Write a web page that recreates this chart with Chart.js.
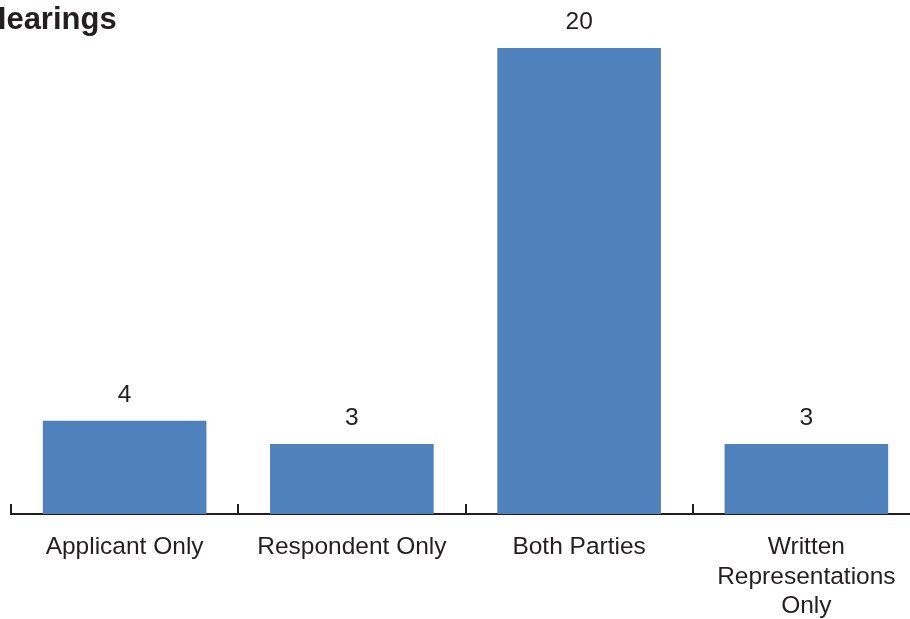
<html>
<head>
    <title>Hearings</title>
    <script src="https://cdn.jsdelivr.net/npm/chart.js"></script>
    <style>
        body { margin: 0; background: #fff; overflow: hidden; }
        .wrap { width: 910px; height: 619px; overflow: hidden; position: relative; }
        canvas { position: absolute; left: 0; top: 0; }
    </style>
</head>
<body>
    <div class="wrap">
        <canvas id="hearings" width="930" height="619"></canvas>
    </div>
</body>
<script>
    const titleText = 'Hearings';
    const labels = ['Applicant Only', 'Respondent Only', 'Both Parties', ['Written', 'Representations', 'Only']];
    const counts = [4, 3, 20, 3];

    const textColor = '#231f20';
    const barColor = '#4f81bd';

    // 막대 위 숫자와 제목 (제목은 왼쪽이 잘려 있음)
    const labelPlugin = {
        id: 'labelPlugin',
        afterDatasetsDraw(chart) {
            const ctx = chart.ctx;
            const meta = chart.getDatasetMeta(0);
            ctx.save();
            ctx.fillStyle = textColor;
            ctx.font = '24.5px "Liberation Sans", Arial, sans-serif';
            ctx.textAlign = 'center';
            ctx.textBaseline = 'alphabetic';
            meta.data.forEach((bar, i) => {
                ctx.fillText(String(counts[i]), bar.x, bar.y - 19);
            });
            ctx.font = 'bold 31px "Liberation Sans", Arial, sans-serif';
            ctx.textAlign = 'left';
            ctx.fillText(titleText, -16, 29);
            ctx.restore();
        }
    };

    new Chart(document.getElementById('hearings'), {
        type: 'bar',
        data: {
            labels,
            datasets: [{
                data: counts,
                backgroundColor: barColor,
                barPercentage: 0.72,
                categoryPercentage: 1
            }]
        },
        options: {
            responsive: false,
            animation: false,
            layout: { padding: { left: 11, right: 10, top: 48, bottom: 0 } },
            plugins: {
                legend: { display: false },
                tooltip: { enabled: false }
            },
            scales: {
                x: {
                    afterFit: (scale) => { scale.height = 105; },
                    border: { display: true, color: textColor, width: 2 },
                    grid: {
                        drawOnChartArea: false,
                        drawTicks: true,
                        tickLength: -10,
                        color: textColor,
                        lineWidth: 2
                    },
                    ticks: {
                        color: textColor,
                        padding: 28,
                        maxRotation: 0,
                        autoSkip: false,
                        font: { family: '"Liberation Sans", Arial, sans-serif', size: 24.5, lineHeight: 1.22 }
                    }
                },
                y: {
                    display: false,
                    min: 0,
                    max: 20
                }
            }
        },
        plugins: [labelPlugin]
    });
</script>
</html>
